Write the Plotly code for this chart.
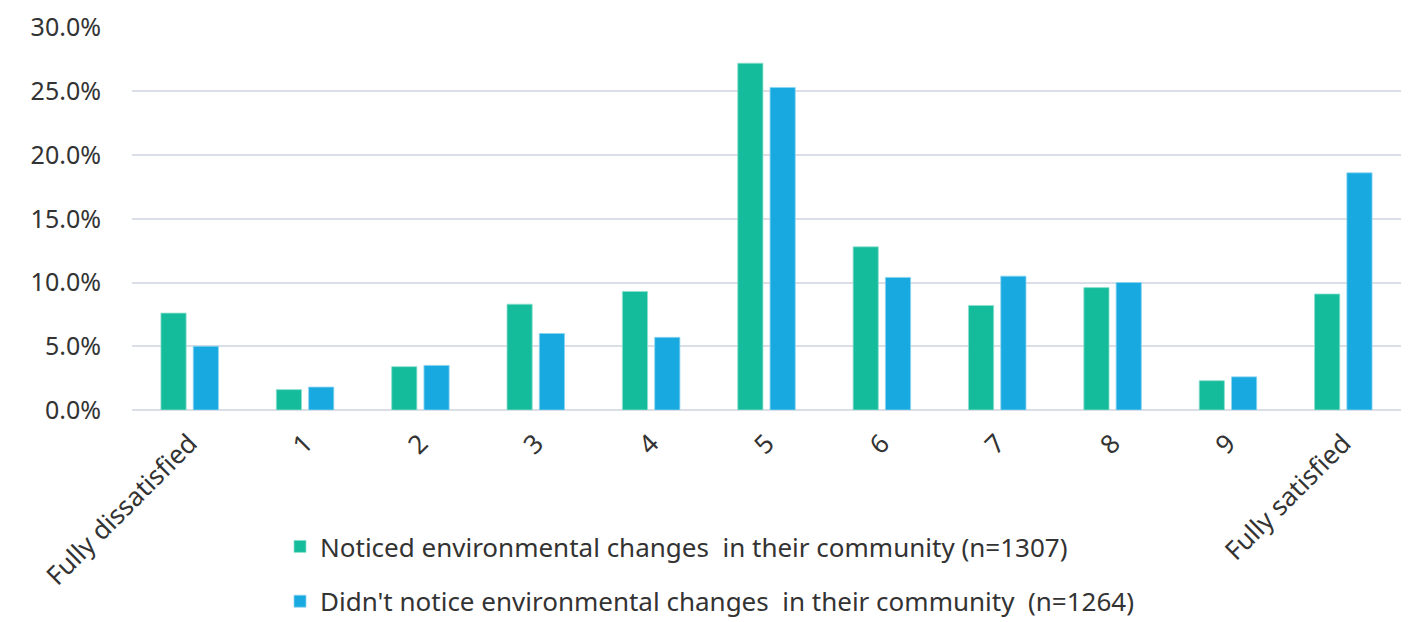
import plotly.graph_objects as go

categories = ["Fully dissatisfied", "1", "2", "3", "4", "5", "6", "7", "8", "9", "Fully satisfied"]
noticed = [7.6, 1.6, 3.4, 8.3, 9.3, 27.2, 12.8, 8.2, 9.6, 2.3, 9.1]
not_noticed = [5.0, 1.8, 3.5, 6.0, 5.7, 25.3, 10.4, 10.5, 10.0, 2.6, 18.6]
name_noticed = "Noticed environmental changes \u00a0in their community (n=1307)"
name_not = "Didn't notice environmental changes \u00a0in their community \u00a0(n=1264)"

font_family = "Noto Sans, Open Sans, sans-serif"
text_color = "#333333"

fig = go.Figure()
fig.add_trace(go.Bar(
    x=categories, y=[v / 100 for v in noticed], name=name_noticed,
    marker=dict(color="#14BC9C", line=dict(color="#8FE0CE", width=0.8)),
    legendgroup="a",
))
fig.add_trace(go.Bar(
    x=categories, y=[v / 100 for v in not_noticed], name=name_not,
    marker=dict(color="#19A9E1", line=dict(color="#8CD4F0", width=0.8)),
    legendgroup="b",
))

fig.update_layout(
    width=1413, height=622,
    margin=dict(l=124, r=20, t=19, b=220, autoexpand=False),
    paper_bgcolor="white", plot_bgcolor="white",
    barmode="group", bargap=0.44, bargroupgap=0.22,
    font=dict(family=font_family, size=25, color=text_color),
    showlegend=True,
    legend=dict(
        xref="container", yref="container",
        x=0.1925, y=0.172, xanchor="left", yanchor="top",
        orientation="v", traceorder="grouped", tracegroupgap=18,
        font=dict(size=26, color=text_color),
        bgcolor="rgba(0,0,0,0)", itemwidth=30,
    ),
    xaxis=dict(
        tickangle=-45, showgrid=False, showline=False, ticks="",
        ticklabelstandoff=12,
        tickfont=dict(size=26, color=text_color),
    ),
    yaxis=dict(
        range=[0, 0.3004], tickvals=[0, 0.05, 0.1, 0.15, 0.2, 0.25, 0.3],
        tickformat=".1%", ticklabeloverflow="allow",
        showgrid=True, gridcolor="#D9DEE7", gridwidth=2,
        zeroline=True, zerolinecolor="#D9DEE7", zerolinewidth=2,
        showline=False, ticks="", ticklabelstandoff=30,
        tickfont=dict(size=25, color=text_color),
    ),
)

fig.write_html("out.html")
